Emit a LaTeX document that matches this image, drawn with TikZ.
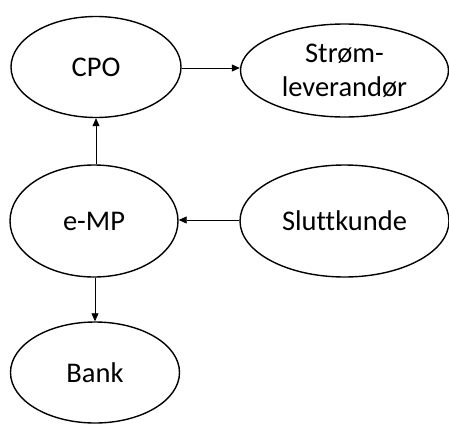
\documentclass[tikz,border=0pt]{standalone}
\usepackage{fontspec}
\setmainfont{Carlito}[Ligatures=NoCommon]
\usetikzlibrary{shapes.geometric,arrows.meta}
\begin{document}
\begin{tikzpicture}[x=1pt,y=-1pt,
  ent/.style={draw,ellipse,line width=1.4pt,inner sep=0pt,align=center,
    font=\fontsize{28.5}{34}\selectfont},
  arr/.style={line width=0.8pt,-{Triangle[length=8pt,width=7pt]}}]
\useasboundingbox (0,0) rectangle (449,423);
\node[ent,minimum width=170pt,minimum height=101pt] (cpo) at (96,67) {CPO};
\node[ent,minimum width=208pt,minimum height=93pt] (strom) at (344.5,70.5) {Strøm-\\leverandør};
\node[ent,minimum width=168pt,minimum height=112pt] (emp) at (94,221) {e-MP};
\node[ent,minimum width=209pt,minimum height=112pt] (slutt) at (344.5,221) {Sluttkunde};
\node[ent,minimum width=169pt,minimum height=101pt] (bank) at (95,372.5) {Bank};
\draw[arr] (cpo.east |- 0,68) -- (strom.west |- 0,68);
\draw[arr] (emp.north -| cpo.south) -- (cpo.south);
\draw[arr] (slutt.west |- 0,220) -- (emp.east |- 0,220);
\draw[arr] (emp.south -| bank.north) -- (bank.north);
\end{tikzpicture}
\end{document}
